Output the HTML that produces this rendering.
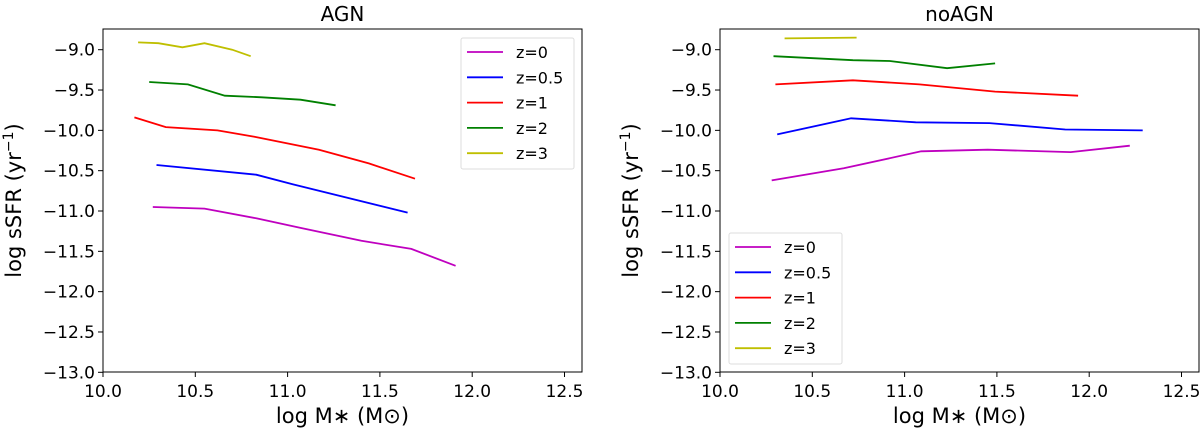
<!DOCTYPE html>
<html><head><meta charset="utf-8"><style>
body{margin:0;background:#fff;}
svg text{font-family:"DejaVu Sans","Liberation Sans",sans-serif;fill:#000;}
</style></head><body>
<svg id="c" width="1200" height="431" xmlns="http://www.w3.org/2000/svg"></svg>
<script>
const xTicks=[10.0,10.5,11.0,11.5,12.0,12.5];
const yTicks=[-9.0,-9.5,-10.0,-10.5,-11.0,-11.5,-12.0,-12.5,-13.0];
const seriesNames=["z=0","z=0.5","z=1","z=2","z=3"];
const seriesColors=["#bf00bf","#0000ff","#ff0000","#008000","#bfbf00"];
const agnX0=[10.27,10.55,10.83,11.07,11.40,11.67,11.91];
const agnY0=[-10.95,-10.97,-11.09,-11.21,-11.37,-11.47,-11.68];
const agnX05=[10.29,10.83,11.03,11.65];
const agnY05=[-10.43,-10.55,-10.67,-11.02];
const agnX1=[10.17,10.34,10.62,10.82,11.17,11.44,11.69];
const agnY1=[-9.84,-9.96,-10.0,-10.08,-10.24,-10.41,-10.60];
const agnX2=[10.25,10.46,10.66,10.86,11.07,11.26];
const agnY2=[-9.40,-9.43,-9.57,-9.59,-9.62,-9.69];
const agnX3=[10.19,10.30,10.43,10.55,10.70,10.80];
const agnY3=[-8.91,-8.92,-8.97,-8.92,-9.0,-9.08];
const noX0=[10.28,10.67,11.09,11.45,11.90,12.22];
const noY0=[-10.62,-10.47,-10.26,-10.24,-10.27,-10.19];
const noX05=[10.31,10.71,11.06,11.46,11.87,12.29];
const noY05=[-10.05,-9.85,-9.90,-9.91,-9.99,-10.0];
const noX1=[10.30,10.72,11.08,11.49,11.94];
const noY1=[-9.43,-9.38,-9.43,-9.52,-9.57];
const noX2=[10.29,10.72,10.92,11.23,11.49];
const noY2=[-9.08,-9.13,-9.14,-9.23,-9.17];
const noX3=[10.35,10.74];
const noY3=[-8.86,-8.85];

const svg=document.getElementById('c');
const NS="http://www.w3.org/2000/svg";
function mk(t,a,txt){const e=document.createElementNS(NS,t);for(const k in a)e.setAttribute(k,a[k]);if(txt!==undefined)e.textContent=txt;svg.appendChild(e);return e;}

function panel(left,title,name,xs,ys,legX,legY){
  const L=left,R=left+479,T=29,B=372;
  const sx=v=>L+(v-10)*184.6;
  const sy=v=>49.7+(-9-v)*80.65;
  let e=mk('rect',{x:L,y:T,width:R-L,height:B-T,fill:'none',stroke:'#000','stroke-width':1});
  
  
  e=mk('text',{x:(L+R)/2,y:21,'text-anchor':'middle','font-size':20},title);
  
  
  xTicks.forEach(v=>{
    mk('line',{x1:sx(v),x2:sx(v),y1:B,y2:B+5,stroke:'#000'});
    e=mk('text',{x:sx(v),y:B+25,'text-anchor':'middle','font-size':17},v.toFixed(1));
    
    
  });
  yTicks.forEach(v=>{
    mk('line',{x1:L-5,x2:L,y1:sy(v),y2:sy(v),stroke:'#000'});
    e=mk('text',{x:L-8,y:sy(v)+6,'text-anchor':'end','font-size':17},'\u2212'+Math.abs(v).toFixed(1));
    
    
  });
  e=mk('text',{x:(L+R)/2,y:423,'text-anchor':'middle','font-size':21},'log M\u2217 (M\u2299)');
  
  
  e=mk('text',{x:0,y:0,'text-anchor':'middle','font-size':21,transform:`translate(${L-82},${(T+B)/2}) rotate(-90)`});
  e.innerHTML='log sSFR (yr<tspan dy="-8" font-size="14">\u22121</tspan><tspan dy="8">)</tspan>';
  
  
  xs.forEach((xa,i)=>{
    const pts=xa.map((x,j)=>sx(x).toFixed(1)+','+sy(ys[i][j]).toFixed(1)).join(' ');
    const p=mk('polyline',{points:pts,fill:'none',stroke:seriesColors[i],'stroke-width':1.8});
    
    
  });
  e=mk('rect',{x:legX,y:legY,width:113,height:131,rx:2,fill:'#fff',stroke:'#ddd'});
  
  
  seriesNames.forEach((n,i)=>{
    const yy=legY+14+i*25.3;
    mk('line',{x1:legX+6,x2:legX+42,y1:yy,y2:yy,stroke:seriesColors[i],'stroke-width':1.8});
    const t=mk('text',{x:legX+55,y:yy+6,'font-size':16},n);
    
    
  });
}
panel(103,'AGN','agn',[agnX0,agnX05,agnX1,agnX2,agnX3],[agnY0,agnY05,agnY1,agnY2,agnY3],461,38);
panel(720,'noAGN','noagn',[noX0,noX05,noX1,noX2,noX3],[noY0,noY05,noY1,noY2,noY3],729,233);
</script>
</body></html>
